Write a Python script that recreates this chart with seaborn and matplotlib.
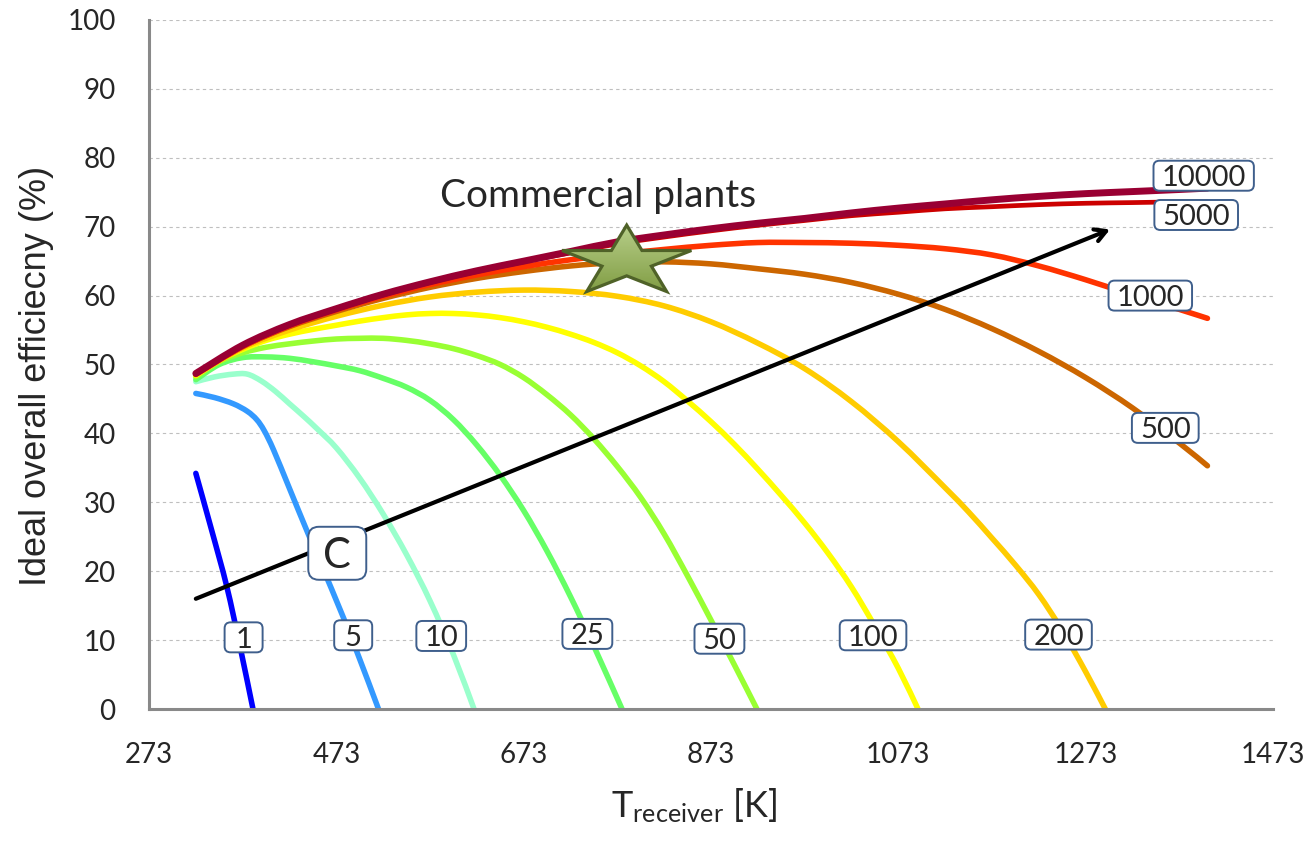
import numpy as np
import pandas as pd
import seaborn as sns
import matplotlib
matplotlib.use("Agg")
import matplotlib.pyplot as plt
from matplotlib.path import Path
from matplotlib.patches import PathPatch, FancyBboxPatch
from matplotlib.transforms import Affine2D, ScaledTranslation

# ---- efficiency curves, one per concentration ratio C ----
C1_T = [323, 340, 356, 370, 384]
C1_E = [34.2, 25.9, 17.8, 9.2, 0.0]

C5_T = [323, 343, 363, 378, 388, 396, 406, 423, 443, 468, 493, 518]
C5_E = [45.8, 45.2, 44.3, 43.2, 42.0, 40.4, 37.6, 32.0, 25.4, 17.4, 9.0, 0.0]

C10_T = [323, 343, 363, 378, 393, 408, 423, 438, 453, 473, 498, 523, 548, 573, 598, 620]
C10_E = [47.5, 48.2, 48.6, 48.6, 47.6, 46.1, 44.3, 42.5, 40.6, 37.9, 33.5, 28.3, 22.4, 15.7, 7.9, 0.0]

C25_T = [323, 348, 373, 398, 423, 448, 473, 498, 523, 548, 573, 598, 623, 648,
         673, 698, 723, 748, 778]
C25_E = [47.8, 50.0, 51.0, 51.1, 50.9, 50.4, 49.8, 49.1, 48.0, 46.7, 44.8, 42.0, 38.3, 33.9,
         28.8, 22.9, 16.3, 9.1, 0.0]

C50_T = [323, 348, 373, 398, 423, 448, 473, 498, 523, 548, 573, 598, 623, 648,
         673, 698, 723, 748, 773, 798, 823, 848, 873, 898, 922]
C50_E = [48.2, 50.4, 51.7, 52.5, 53.0, 53.4, 53.7, 53.8, 53.8, 53.5, 53.0, 52.3, 51.3, 50.0,
         48.1, 45.6, 42.7, 39.2, 35.2, 30.7, 25.4, 19.3, 12.9, 6.4, 0.0]

C100_T = [323, 348, 373, 398, 423, 448, 473, 498, 523, 548, 573, 598, 623, 648, 673, 698,
          723, 748, 773, 798, 823, 848, 873, 898, 923, 948, 973, 998, 1023, 1048, 1073, 1094]
C100_E = [48.4, 50.6, 52.2, 53.5, 54.4, 55.1, 55.7, 56.3, 56.8, 57.2, 57.4, 57.4, 57.2, 56.8, 56.2, 55.4,
          54.4, 53.2, 51.7, 49.8, 47.5, 44.7, 41.7, 38.4, 34.8, 31.0, 27.0, 22.6, 17.7, 12.0, 5.9, 0.0]

C200_T = [323, 373, 423, 473, 523, 573, 623, 673, 723, 773, 823, 873, 923, 973,
          1023, 1073, 1123, 1148, 1173, 1198, 1223, 1248, 1273, 1294]
C200_E = [48.5, 52.4, 55.0, 57.0, 58.6, 59.8, 60.5, 60.8, 60.6, 59.9, 58.5, 56.2, 53.1, 49.4,
          44.6, 38.8, 32.1, 28.6, 24.8, 20.9, 16.6, 11.4, 5.4, 0.0]

C500_T = [323, 373, 423, 473, 523, 573, 623, 673, 723, 773, 823, 873, 923, 973,
          1023, 1073, 1123, 1173, 1223, 1273, 1323, 1373, 1403]
C500_E = [48.6, 52.6, 55.5, 57.7, 59.6, 61.2, 62.5, 63.5, 64.3, 64.8, 64.9, 64.6, 63.9, 63.1,
          61.9, 60.2, 58.0, 55.2, 51.9, 48.1, 43.7, 38.6, 35.3]

C1000_T = [323, 373, 423, 473, 523, 573, 623, 673, 723, 773, 823, 873, 923, 973,
           1023, 1073, 1123, 1173, 1223, 1273, 1323, 1373, 1403]
C1000_E = [48.6, 52.6, 55.6, 57.9, 59.9, 61.6, 63.0, 64.2, 65.2, 66.0, 66.7, 67.3, 67.7, 67.7,
           67.6, 67.3, 66.8, 65.9, 64.3, 62.3, 60.1, 58.0, 56.7]

C5000_T = [323, 373, 423, 473, 523, 573, 623, 673, 723, 773, 823, 873, 923, 973,
           1023, 1073, 1123, 1173, 1223, 1273, 1323, 1373, 1403]
C5000_E = [48.6, 52.7, 55.7, 58.0, 60.1, 61.9, 63.5, 64.9, 66.2, 67.5, 68.5, 69.4, 70.2, 70.9,
           71.6, 72.1, 72.6, 72.9, 73.2, 73.4, 73.5, 73.6, 73.6]

C10000_T = [323, 373, 423, 473, 523, 573, 623, 673, 723, 773, 823, 873, 923, 973,
            1023, 1073, 1123, 1173, 1223, 1273, 1323, 1373, 1403]
C10000_E = [48.7, 52.8, 55.8, 58.1, 60.2, 62.0, 63.6, 65.0, 66.4, 67.8, 68.8, 69.7, 70.5, 71.2,
            72.0, 72.7, 73.3, 73.9, 74.4, 74.8, 75.1, 75.4, 75.6]

CONCENTRATIONS = ["1", "5", "10", "25", "50", "100", "200", "500", "1000", "5000", "10000"]
COLORS = ["#0000FF", "#3399FF", "#99FFCC", "#66FF66", "#99FF33", "#FFFF00",
          "#FFCC00", "#CC6600", "#FF3300", "#CC0000", "#990033"]
LINE_WIDTHS = [4.0, 4.0, 4.0, 4.0, 4.0, 4.0, 4.0, 4.0, 4.0, 3.4, 5.0]

# where each concentration tag sits (T, efficiency)
TAG_T = [374, 491, 585, 741, 882, 1046, 1244, 1358, 1342, 1391, 1399]
TAG_E = [10.4, 10.7, 10.6, 10.9, 10.2, 10.7, 10.8, 40.8, 60.0, 71.7, 77.4]

# arrow of increasing concentration
ARROW_START = (323, 16.0)
ARROW_END = (1299, 69.6)
ARROW_TAG = (474, 22.6)

# commercial plants marker
STAR_T, STAR_E = 783, 64.9
COMMERCIAL_TEXT_POS = (752, 72.9)

X_TICKS = [273, 473, 673, 873, 1073, 1273, 1473]
Y_TICKS = [0, 10, 20, 30, 40, 50, 60, 70, 80, 90, 100]

series_T = [C1_T, C5_T, C10_T, C25_T, C50_T, C100_T, C200_T, C500_T, C1000_T, C5000_T, C10000_T]
series_E = [C1_E, C5_E, C10_E, C25_E, C50_E, C100_E, C200_E, C500_E, C1000_E, C5000_E, C10000_E]

frames = []
for c, t, e in zip(CONCENTRATIONS, series_T, series_E):
    frames.append(pd.DataFrame({"T": t, "eff": e, "C": c}))
df = pd.concat(frames, ignore_index=True)

sns.set_style("white")
plt.rcParams["font.family"] = ["Lato", "DejaVu Sans"]
plt.rcParams["mathtext.fontset"] = "custom"
plt.rcParams["mathtext.rm"] = "Lato"
plt.rcParams["mathtext.it"] = "Lato:italic"

fig = plt.figure(figsize=(13.14, 8.43), dpi=100)
ax = fig.add_axes([149 / 1314, 1 - 709 / 843, 1124 / 1314, 689 / 843])

# dashed horizontal gridlines
for y in Y_TICKS[1:]:
    ax.axhline(y, color="#BFBFBF", lw=0.8, ls=(0, (3, 3)), zorder=0)


def smooth_path(xy):
    """Catmull-Rom style cubic Bezier through the given points (smoothed line)."""
    pts = np.asarray(xy, dtype=float)
    ext = np.vstack([pts[0], pts, pts[-1]])
    verts = [pts[0]]
    codes = [Path.MOVETO]
    for i in range(1, len(ext) - 2):
        p0, p1, p2, p3 = ext[i - 1], ext[i], ext[i + 1], ext[i + 2]
        verts += [p1 + (p2 - p0) / 6.0, p2 - (p3 - p1) / 6.0, p2]
        codes += [Path.CURVE4] * 3
    return Path(verts, codes)


for i, (c, col, lw) in enumerate(zip(CONCENTRATIONS, COLORS, LINE_WIDTHS)):
    sub = df[df["C"] == c]
    sns.lineplot(data=sub, x="T", y="eff", color=col, linewidth=lw, ax=ax,
                 sort=False, estimator=None)
    line = ax.lines[-1]
    patch = PathPatch(smooth_path(line.get_xydata()), fill=False, edgecolor=col,
                      linewidth=lw, capstyle="round", joinstyle="round",
                      transform=ax.transData, zorder=2 + i * 0.01)
    ax.add_patch(patch)
    line.set_visible(False)

# arrow with the C tag
ax.annotate("", xy=ARROW_END, xytext=ARROW_START,
            arrowprops=dict(arrowstyle="->,head_length=0.8,head_width=0.45",
                            lw=3.0, color="black", shrinkA=0, shrinkB=0),
            zorder=5)


def tagged(x, y, txt, fontsize, box_h, pad_x, min_w, zorder):
    t = ax.annotate(txt, xy=(x, y), xytext=(0, -0.36 * fontsize), textcoords="offset points",
                    ha="center", va="baseline", fontsize=fontsize, zorder=zorder + 0.5)
    fig.canvas.draw()
    w = max(t.get_window_extent().width + 2 * pad_x, min_w)
    tr = Affine2D() + ScaledTranslation(x, y, ax.transData)
    box = FancyBboxPatch((-w / 2, -box_h / 2), w, box_h,
                         boxstyle="round,pad=0,rounding_size=%f" % (box_h * 0.2),
                         fc="white", ec="#3F5F8C", lw=1.4, transform=tr, zorder=zorder)
    ax.add_artist(box)


# commercial plants star (flattened five-point star, shaded top to bottom)
ang_out = np.pi / 2 + np.arange(5) * 2 * np.pi / 5
ang_in = ang_out + np.pi / 5
verts = []
for ao, ai in zip(ang_out, ang_in):
    verts.append((np.cos(ao), np.sin(ao)))
    verts.append((0.382 * np.cos(ai), 0.382 * np.sin(ai)))
verts.append(verts[0])
codes = [Path.MOVETO] + [Path.LINETO] * 9 + [Path.CLOSEPOLY]
star = Path(verts, codes)
star_tr = Affine2D().scale(68, 36.7) + ScaledTranslation(STAR_T, STAR_E, ax.transData)
star_patch = PathPatch(star, fc="none", ec="#4F6228", lw=2.3, joinstyle="miter",
                       transform=star_tr, zorder=8.5)
ax.add_patch(star_patch)
grad = np.linspace(0, 1, 64).reshape(-1, 1)
star_cmap = matplotlib.colors.LinearSegmentedColormap.from_list("star", ["#BBD28E", "#789539"])
img = ax.imshow(grad, cmap=star_cmap, aspect="auto", origin="upper",
                extent=(STAR_T - 80, STAR_T + 80, STAR_E - 6, STAR_E + 6), zorder=8)
img.set_clip_path(PathPatch(star, transform=star_tr))

ax.text(COMMERCIAL_TEXT_POS[0], COMMERCIAL_TEXT_POS[1], "Commercial plants",
        ha="center", va="baseline", fontsize=28, zorder=8)

ax.set_xlim(273, 1473)
ax.set_ylim(0, 100)
ax.set_xticks(X_TICKS)
ax.set_yticks(Y_TICKS)
ax.tick_params(axis="both", which="major", labelsize=20, direction="out",
               length=6, width=1.8, color="#898989", pad=18)
for side in ["top", "right"]:
    ax.spines[side].set_visible(False)
for side in ["left", "bottom"]:
    ax.spines[side].set_color("#898989")
    ax.spines[side].set_linewidth(2.2)

ax.set_ylabel("Ideal overall efficiecny (%)", fontsize=26, family=["Liberation Sans"])
ax.yaxis.set_label_coords((54 - 149) / 1124, (709 - 376) / 689)
ax.set_xlabel(r"T$_{\mathrm{receiver}}$ [K]", fontsize=26)
ax.xaxis.set_label_coords((694 - 149) / 1124, (709 - 786) / 689)

for c, tx, ty in zip(CONCENTRATIONS, TAG_T, TAG_E):
    tagged(tx, ty, c, 21, 30, 8, 38, 6)
tagged(ARROW_TAG[0], ARROW_TAG[1], "C", 30, 53, 13, 58, 7)

fig.savefig("out.png", dpi=100)
